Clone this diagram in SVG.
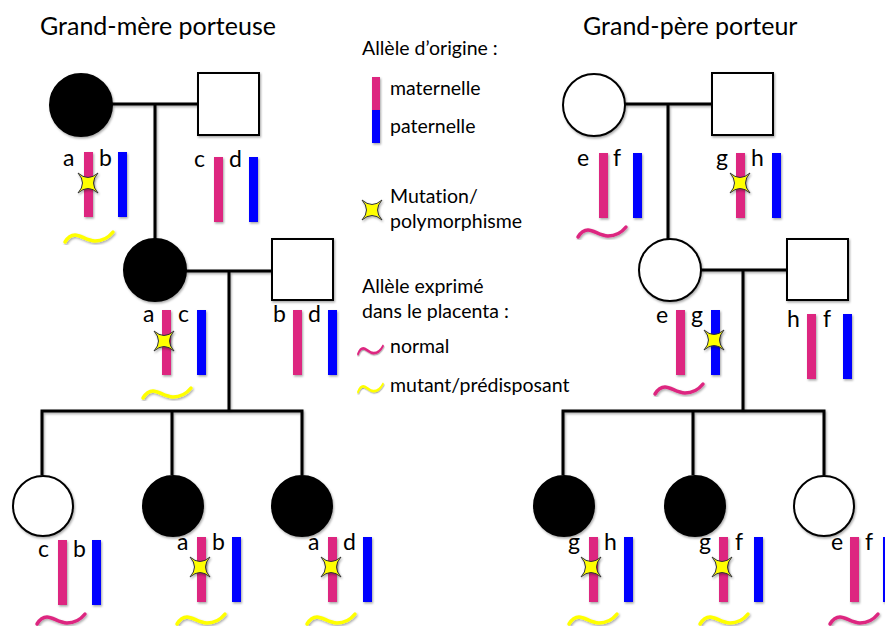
<svg xmlns="http://www.w3.org/2000/svg" xmlns:xlink="http://www.w3.org/1999/xlink" width="885" height="626" viewBox="0 0 885 626">
<style>
text{font-family:Lato,"Open Sans","Liberation Sans",sans-serif;fill:#000;font-variant-ligatures:none}
.t{font-size:25px}
.l{font-size:19.5px}
.g{font-size:23px}
.ln{stroke:#000;stroke-width:3;fill:none}
.fem{stroke:#000;stroke-width:2}
.blk{fill:#000}
.wht{fill:#fff}
.pk{fill:#DD2680}
.bl{fill:#0000FF}
.wp{stroke:#DD2680;stroke-width:3.5;fill:none;stroke-linecap:round}
.wy{stroke:#FFFF00;stroke-width:3.5;fill:none;stroke-linecap:round}
.st{fill:#FFFF00;stroke:#333;stroke-width:1}
.sh{filter:url(#ds)}
</style>
<defs>
<filter id="ds" x="-30%" y="-30%" width="160%" height="160%">
<feDropShadow dx="1" dy="1.5" stdDeviation="0.8" flood-color="#000" flood-opacity="0.35"/>
</filter>
<path id="wave" d="M0,10 C3,5 6,3 10,3 C16,3 22,9 30,9 C38,9 44,5 48,0"/>
<path id="star" d="M-10,-10 Q0,-1 10,-10 Q1,0 10,10 Q0,1 -10,10 Q-1,0 -10,-10 Z"/>
<rect id="bar" width="9" height="65"/>
</defs>
<rect width="885" height="626" fill="#fff"/>

<text class="t" x="40" y="35">Grand-mère porteuse</text>
<text class="t" x="583" y="35">Grand-père porteur</text>

<g id="connectors" class="sh">
<path class="ln" d="M112,104 H198 M155,104 V239 M186,271 H272 M229,271 V411 M40.5,411 H303.5 M42,411 V475 M172,411 V475 M302,411 V475"/>
<path class="ln" d="M625,104 H712 M668,104 V239 M701,270 H787 M743,270 V411 M561.5,411 H825.5 M563,411 V475 M693,411 V475 M824,411 V475"/>
</g>

<g id="legend">
<text class="l" x="362" y="55">Allèle d’origine :</text>
<rect class="pk sh" x="372" y="77" width="8" height="33"/>
<rect class="bl sh" x="372" y="110" width="8" height="33"/>
<text class="l" x="390" y="95">maternelle</text>
<text class="l" x="390" y="133">paternelle</text>
<use href="#star" class="st sh" transform="translate(372,210)"/>
<text class="l" x="390" y="203">Mutation/</text>
<text class="l" x="390" y="228">polymorphisme</text>
<text class="l" x="362" y="293">Allèle exprimé</text>
<text class="l" x="362" y="318">dans le placenta :</text>
<use href="#wave" class="wp sh" transform="translate(358,346) scale(0.52,0.8)"/>
<text class="l" x="390" y="353">normal</text>
<use href="#wave" class="wy sh" transform="translate(358,384) scale(0.52,0.8)"/>
<text class="l" x="390" y="392">mutant/prédisposant</text>
</g>

<!-- Left family -->
<g id="gm-left">
<circle class="blk fem sh" cx="81" cy="105" r="31"/>
<use href="#bar" class="pk sh" x="84" y="152"/>
<use href="#bar" class="bl sh" x="118" y="152"/>
<text class="g" x="63" y="166">a</text>
<text class="g" x="99" y="166">b</text>
<use href="#star" class="st sh" transform="translate(88,183)"/>
<use href="#wave" class="wy sh" transform="translate(65,232)"/>
</g>
<g id="gf-left">
<rect class="wht fem sh" x="198" y="73" width="61" height="62"/>
<use href="#bar" class="pk sh" x="214" y="157"/>
<use href="#bar" class="bl sh" x="249" y="157"/>
<text class="g" x="194" y="167">c</text>
<text class="g" x="229" y="167">d</text>
</g>
<g id="mother-left">
<circle class="blk fem sh" cx="155" cy="270" r="31"/>
<use href="#bar" class="pk sh" x="162" y="310"/>
<use href="#bar" class="bl sh" x="197" y="310"/>
<text class="g" x="143" y="322">a</text>
<text class="g" x="178" y="322">c</text>
<use href="#star" class="st sh" transform="translate(164,341)"/>
<use href="#wave" class="wy sh" transform="translate(143,388)"/>
</g>
<g id="father-left">
<rect class="wht fem sh" x="272" y="239" width="61" height="61"/>
<use href="#bar" class="pk sh" x="293" y="310"/>
<use href="#bar" class="bl sh" x="328" y="310"/>
<text class="g" x="273" y="322">b</text>
<text class="g" x="308" y="322">d</text>
</g>
<g id="child-l1">
<circle class="wht fem sh" cx="43" cy="506" r="30"/>
<use href="#bar" class="pk sh" x="58" y="540" height="66"/>
<use href="#bar" class="bl sh" x="92" y="540" height="66"/>
<text class="g" x="38" y="557">c</text>
<text class="g" x="73" y="557">b</text>
<use href="#wave" class="wp sh" transform="translate(37,614)"/>
</g>
<g id="child-l2">
<circle class="blk fem sh" cx="173" cy="506" r="30"/>
<use href="#bar" class="pk sh" x="197" y="537"/>
<use href="#bar" class="bl sh" x="232" y="537"/>
<text class="g" x="177" y="550">a</text>
<text class="g" x="212" y="550">b</text>
<use href="#star" class="st sh" transform="translate(200,567)"/>
<use href="#wave" class="wy sh" transform="translate(177,614)"/>
</g>
<g id="child-l3">
<circle class="blk fem sh" cx="302" cy="506" r="30"/>
<use href="#bar" class="pk sh" x="328" y="537"/>
<use href="#bar" class="bl sh" x="363" y="537"/>
<text class="g" x="308" y="550">a</text>
<text class="g" x="343" y="550">d</text>
<use href="#star" class="st sh" transform="translate(331,567)"/>
<use href="#wave" class="wy sh" transform="translate(307,614)"/>
</g>

<!-- Right family -->
<g id="gm-right">
<circle class="wht fem sh" cx="594" cy="105" r="31"/>
<use href="#bar" class="pk sh" x="599" y="153"/>
<use href="#bar" class="bl sh" x="633" y="153"/>
<text class="g" x="577" y="166">e</text>
<text class="g" x="613" y="166">f</text>
<use href="#wave" class="wp sh" transform="translate(578,227)"/>
</g>
<g id="gf-right">
<rect class="wht fem sh" x="712" y="73" width="61" height="62"/>
<use href="#bar" class="pk sh" x="736" y="153"/>
<use href="#bar" class="bl sh" x="772" y="153"/>
<text class="g" x="716" y="166">g</text>
<text class="g" x="751" y="166">h</text>
<use href="#star" class="st sh" transform="translate(740,183)"/>
</g>
<g id="mother-right">
<circle class="wht fem sh" cx="670" cy="270" r="31"/>
<use href="#bar" class="pk sh" x="676" y="310"/>
<use href="#bar" class="bl sh" x="711" y="310"/>
<text class="g" x="656" y="323">e</text>
<text class="g" x="691" y="323">g</text>
<use href="#star" class="st sh" transform="translate(714,340)"/>
<use href="#wave" class="wp sh" transform="translate(655,384)"/>
</g>
<g id="father-right">
<rect class="wht fem sh" x="787" y="239" width="61" height="61"/>
<use href="#bar" class="pk sh" x="807" y="314"/>
<use href="#bar" class="bl sh" x="843" y="314"/>
<text class="g" x="787" y="327">h</text>
<text class="g" x="823" y="327">f</text>
</g>
<g id="child-r1">
<circle class="blk fem sh" cx="564" cy="506" r="30"/>
<use href="#bar" class="pk sh" x="589" y="537"/>
<use href="#bar" class="bl sh" x="624" y="537"/>
<text class="g" x="568" y="550">g</text>
<text class="g" x="604" y="550">h</text>
<use href="#star" class="st sh" transform="translate(591,567)"/>
<use href="#wave" class="wy sh" transform="translate(569,614)"/>
</g>
<g id="child-r2">
<circle class="blk fem sh" cx="695" cy="506" r="30"/>
<use href="#bar" class="pk sh" x="719" y="537"/>
<use href="#bar" class="bl sh" x="754" y="537"/>
<text class="g" x="699" y="550">g</text>
<text class="g" x="735" y="550">f</text>
<use href="#star" class="st sh" transform="translate(722,567)"/>
<use href="#wave" class="wy sh" transform="translate(700,614)"/>
</g>
<g id="child-r3">
<circle class="wht fem sh" cx="824" cy="506" r="30"/>
<use href="#bar" class="pk sh" x="850" y="537"/>
<use href="#bar" class="bl sh" x="883" y="537"/>
<text class="g" x="831" y="550">e</text>
<text class="g" x="865" y="550">f</text>
<use href="#wave" class="wp sh" transform="translate(830,614)"/>
</g>
</svg>
